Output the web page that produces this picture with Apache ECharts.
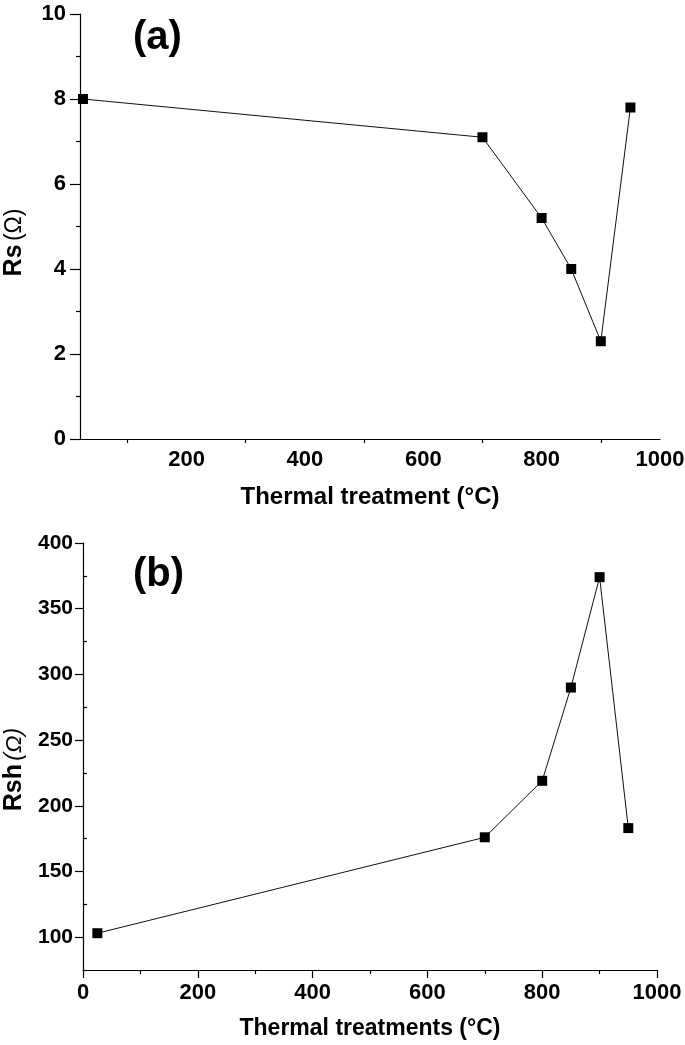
<!DOCTYPE html>
<html>
<head>
<meta charset="utf-8">
<script src="https://cdn.jsdelivr.net/npm/echarts@6/dist/echarts.min.js"></script>
<style>
  html, body { margin: 0; padding: 0; background: #fff; }
  #chart { width: 685px; height: 1045px; }
</style>
</head>
<body>
<div id="chart"></div>
<script>
// ---- data ----
const tempsA = [25, 700, 800, 850, 900, 950];
const rsValues = [8.0, 7.1, 5.2, 4.0, 2.3, 7.8];
const tempsB = [25, 700, 800, 850, 900, 950];
const rshValues = [103, 176, 219, 290, 374, 183];

// tick labels / tick positions
const xLabelsA = [200, 400, 600, 800, 1000];
const xTicksA = [100, 300, 500, 700, 900];
const yLabelsB = [100, 150, 200, 250, 300, 350, 400];
const yMinorB = [75, 125, 175, 225, 275, 325, 375];

const FONT = '"Liberation Sans", Arial, Helvetica, sans-serif';
const axisLineStyle = { color: '#000', width: 1.2 };
const plain = v => String(v);

const chart = echarts.init(document.getElementById('chart'), null, { renderer: 'canvas' });

const option = {
  animation: false,
  backgroundColor: '#fff',
  title: [
    { text: '(a)', left: 128, top: 13, textStyle: { fontFamily: FONT, fontWeight: 'bold', fontSize: 40, color: '#000' } },
    { text: '(b)', left: 128, top: 550, textStyle: { fontFamily: FONT, fontWeight: 'bold', fontSize: 40, color: '#000' } }
  ],
  grid: [
    { left: 80, top: 14, right: 25, bottom: 606, outerBoundsMode: 'none' },
    { left: 83, top: 543, right: 28, bottom: 75, outerBoundsMode: 'none' }
  ],
  xAxis: [
    {
      gridIndex: 0, type: 'value', min: 20, max: 1000,
      name: 'Thermal treatment (°C)', nameLocation: 'middle', nameGap: 46,
      nameTextStyle: { fontFamily: FONT, fontWeight: 'bold', fontSize: 24, color: '#000' },
      axisLine: { show: true, onZero: false, lineStyle: axisLineStyle },
      axisTick: { show: true, inside: false, length: 4, customValues: xTicksA, lineStyle: { color: '#000', width: 1.2 } },
      axisLabel: { customValues: xLabelsA, formatter: plain, margin: 10, fontFamily: FONT, fontWeight: 'bold', fontSize: 22, color: '#000' },
      splitLine: { show: false }
    },
    {
      gridIndex: 1, type: 'value', min: 0, max: 1000, interval: 200,
      name: 'Thermal treatments (°C)', nameLocation: 'middle', nameGap: 47,
      nameTextStyle: { fontFamily: FONT, fontWeight: 'bold', fontSize: 23, color: '#000' },
      axisLine: { show: true, onZero: false, lineStyle: axisLineStyle },
      axisTick: { show: true, length: 8, lineStyle: { color: '#000', width: 1.2 } },
      minorTick: { show: true, splitNumber: 2, length: 4, lineStyle: { color: '#000', width: 1.2 } },
      axisLabel: { formatter: plain, margin: 12, fontFamily: FONT, fontWeight: 'bold', fontSize: 22, color: '#000' },
      splitLine: { show: false }
    }
  ],
  yAxis: [
    {
      gridIndex: 0, type: 'value', min: 0, max: 10, interval: 2,
      name: '{b|Rs} {n|(Ω)}', nameLocation: 'middle', nameGap: 53,
      nameTextStyle: {
        padding: [0, 32, 0, 0],
        rich: {
          b: { fontFamily: FONT, fontWeight: 'bold', fontSize: 25, color: '#000' },
          n: { fontFamily: FONT, fontWeight: 'normal', fontSize: 23, color: '#000' }
        }
      },
      axisLine: { show: true, onZero: false, lineStyle: axisLineStyle },
      axisTick: { show: true, length: 10, lineStyle: { color: '#000', width: 1.2 } },
      minorTick: { show: true, splitNumber: 2, length: 4, lineStyle: { color: '#000', width: 1.2 } },
      axisLabel: { margin: 14, fontFamily: FONT, fontWeight: 'bold', fontSize: 22, color: '#000' },
      splitLine: { show: false }
    },
    {
      gridIndex: 1, type: 'value', min: 75, max: 400,
      name: '{b|Rsh} {n|(Ω)}', nameLocation: 'middle', nameGap: 56,
      nameTextStyle: {
        padding: [0, 26, 0, 0],
        rich: {
          b: { fontFamily: FONT, fontWeight: 'bold', fontSize: 25, color: '#000' },
          n: { fontFamily: FONT, fontWeight: 'normal', fontStyle: 'italic', fontSize: 23, color: '#000' }
        }
      },
      axisLine: { show: true, onZero: false, lineStyle: axisLineStyle },
      axisTick: { show: true, length: 8, customValues: yLabelsB, lineStyle: { color: '#000', width: 1.2 } },
      axisLabel: { customValues: yLabelsB, formatter: plain, margin: 10, fontFamily: FONT, fontWeight: 'bold', fontSize: 21, color: '#000' },
      splitLine: { show: false }
    },
    {
      gridIndex: 1, type: 'value', min: 75, max: 400,
      axisLine: { show: false },
      axisTick: { show: true, length: 4, customValues: yMinorB, lineStyle: { color: '#000', width: 1.2 } },
      axisLabel: { show: false },
      splitLine: { show: false }
    }
  ],
  series: [
    {
      type: 'line', xAxisIndex: 0, yAxisIndex: 0,
      data: tempsA.map((t, i) => [t, rsValues[i]]),
      symbol: 'rect', symbolSize: 10,
      lineStyle: { color: '#111', width: 1 },
      itemStyle: { color: '#000' }
    },
    {
      type: 'line', xAxisIndex: 1, yAxisIndex: 1,
      data: tempsB.map((t, i) => [t, rshValues[i]]),
      symbol: 'rect', symbolSize: 10,
      lineStyle: { color: '#111', width: 1 },
      itemStyle: { color: '#000' }
    }
  ]
};

chart.setOption(option);
</script>
</body>
</html>
